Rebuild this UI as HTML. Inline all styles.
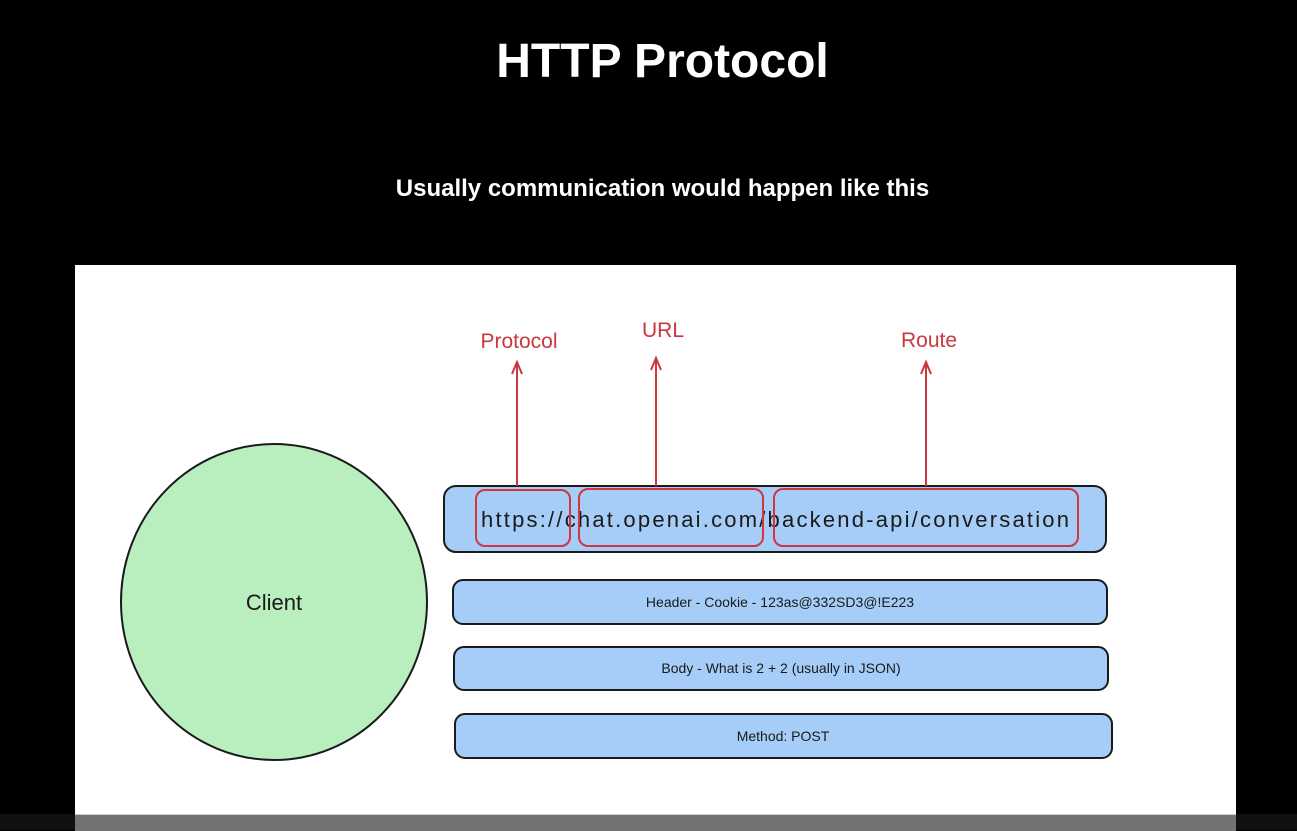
<!DOCTYPE html>
<html><head><style>
body{margin:0;width:1297px;height:830px;background:#000;overflow:hidden;position:relative;font-family:"Liberation Sans",sans-serif}
.t{position:absolute;left:0;width:1297px;text-align:center;color:#fff}
</style></head><body>
<div class="t" style="top:34px;font-size:48px;font-weight:bold;left:14px">HTTP Protocol</div>
<div class="t" style="top:175px;font-size:24px;font-weight:bold;left:14px">Usually communication would happen like this</div>
<div style="position:absolute;left:75px;top:265px;width:1161px;height:550px;background:#fff"></div>
<div style="position:absolute;left:0;top:814px;width:1297px;height:16px;background:#111"></div>
<div style="position:absolute;left:75px;top:814px;width:1161px;height:16px;background:#737373;border-top:1px solid #ccc"></div>
<svg style="position:absolute;left:0;top:0" width="1297" height="830" font-family="'Comic Sans MS','Liberation Sans',sans-serif">
<ellipse cx="274" cy="602" rx="153" ry="158" fill="#b9eebf" stroke="#1a1a1a" stroke-width="2"/>
<text x="274" y="610" font-size="22" text-anchor="middle" fill="#1a1a1a">Client</text>
<rect x="444" y="486" width="662" height="66" rx="12" fill="#a5cdf7" stroke="#1a1a1a" stroke-width="2"/>
<rect x="453" y="580" width="654" height="44" rx="10" fill="#a5cdf7" stroke="#1a1a1a" stroke-width="2"/>
<rect x="454" y="647" width="654" height="43" rx="10" fill="#a5cdf7" stroke="#1a1a1a" stroke-width="2"/>
<rect x="455" y="714" width="657" height="44" rx="10" fill="#a5cdf7" stroke="#1a1a1a" stroke-width="2"/>
<text x="775" y="527" font-size="22" text-anchor="middle" fill="#1a1a1a" textLength="588">https://chat.openai.com/backend-api/conversation</text>
<text x="780" y="607" font-size="14" text-anchor="middle" fill="#1a1a1a">Header - Cookie - 123as@332SD3@!E223</text>
<text x="781" y="673" font-size="14" text-anchor="middle" fill="#1a1a1a">Body - What is 2 + 2 (usually in JSON)</text>
<text x="783" y="741" font-size="14" text-anchor="middle" fill="#1a1a1a">Method: POST</text>
<g fill="none" stroke="#d3353d" stroke-width="2">
<rect x="476" y="490" width="94" height="56" rx="9"/>
<rect x="579" y="489" width="184" height="57" rx="9"/>
<rect x="774" y="489" width="304" height="57" rx="9"/>
</g>
<g stroke="#c9383f" stroke-width="2" fill="none">
<line x1="517" y1="486" x2="517" y2="362"/><polyline points="512,374 517,362 522,374"/>
<line x1="656" y1="486" x2="656" y2="358"/><polyline points="651,370 656,358 661,370"/>
<line x1="926" y1="486" x2="926" y2="362"/><polyline points="921,374 926,362 931,374"/>
</g>
<g fill="#c9383f" font-size="21" text-anchor="middle">
<text x="519" y="348">Protocol</text>
<text x="663" y="337">URL</text>
<text x="929" y="347">Route</text>
</g>
</svg>
</body></html>
